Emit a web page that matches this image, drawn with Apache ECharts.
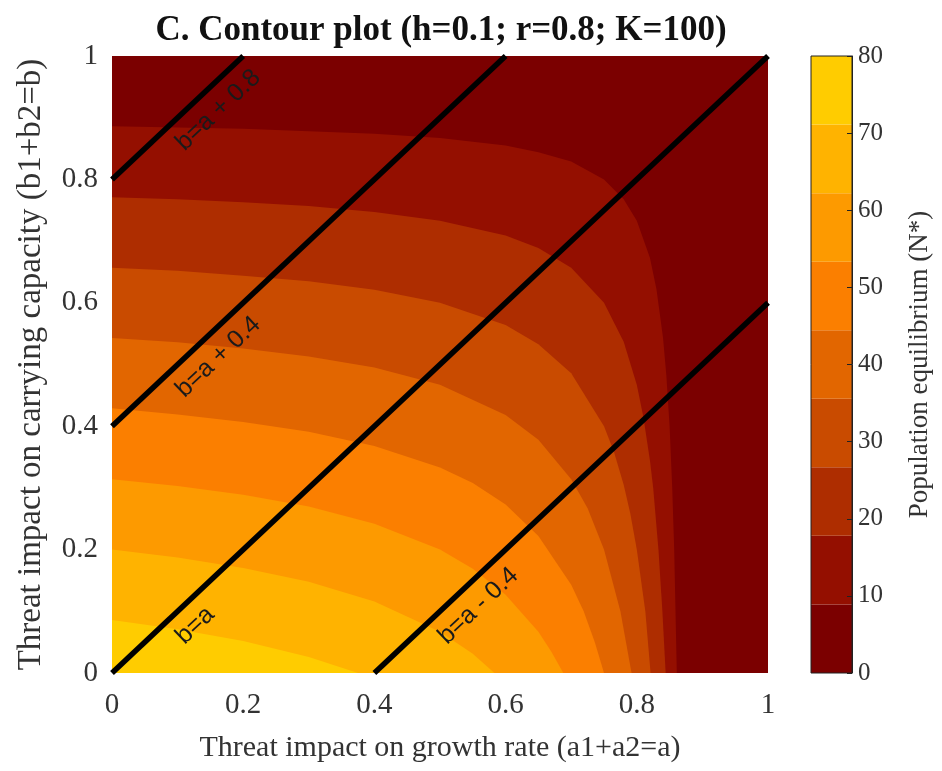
<!DOCTYPE html>
<html>
<head>
<meta charset="utf-8">
<script src="https://cdn.jsdelivr.net/npm/echarts@6/dist/echarts.min.js"></script>
<style>
  html, body { margin: 0; padding: 0; background: #fff; }
  #chart { width: 942px; height: 771px; }
</style>
</head>
<body>
<div id="chart"></div>
<script>
// contour levels of N* and the colour of the band above each level
const levels = [0, 10, 20, 30, 40, 50, 60, 70, 80];
const bandColors = ['#7b0000', '#940f00', '#ae2d00', '#c94b00', '#e26600',
                    '#fb7f00', '#fd9a00', '#ffb300', '#ffcc00'];

// contour curves [a, b] (region below each curve is N* > level)
const contour0 = [[0, 1], [1, 1]];
const contour10 = [[0, 0.886], [0.1, 0.884], [0.2, 0.882], [0.3, 0.878], [0.4, 0.874],
  [0.5, 0.867], [0.6, 0.855], [0.65, 0.844], [0.7, 0.829], [0.75, 0.8], [0.78, 0.768],
  [0.8, 0.733], [0.82, 0.673], [0.83, 0.622], [0.84, 0.543], [0.845, 0.483], [0.85, 0.4],
  [0.854, 0.3], [0.857, 0.2], [0.859, 0.1], [0.861, 0]];
const contour20 = [[0, 0.771], [0.1, 0.768], [0.2, 0.763], [0.3, 0.757], [0.4, 0.747],
  [0.5, 0.733], [0.6, 0.709], [0.65, 0.689], [0.7, 0.657], [0.75, 0.6], [0.78, 0.537],
  [0.8, 0.467], [0.81, 0.415], [0.82, 0.345], [0.825, 0.3], [0.833, 0.2], [0.839, 0.1],
  [0.844, 0]];
const contour30 = [[0, 0.657], [0.1, 0.652], [0.2, 0.644], [0.3, 0.635], [0.4, 0.621],
  [0.5, 0.6], [0.6, 0.564], [0.65, 0.533], [0.7, 0.486], [0.75, 0.4], [0.765, 0.359],
  [0.78, 0.305], [0.79, 0.259], [0.8, 0.2], [0.813, 0.1], [0.821, 0]];
const contour40 = [[0, 0.543], [0.1, 0.536], [0.2, 0.526], [0.3, 0.513], [0.4, 0.495],
  [0.5, 0.467], [0.6, 0.418], [0.65, 0.378], [0.7, 0.314], [0.725, 0.267], [0.75, 0.2],
  [0.775, 0.1], [0.792, 0]];
const contour50 = [[0, 0.429], [0.1, 0.419], [0.2, 0.407], [0.3, 0.391], [0.4, 0.368],
  [0.5, 0.333], [0.55, 0.308], [0.6, 0.273], [0.65, 0.222], [0.7, 0.143], [0.719, 0.1],
  [0.736, 0.05], [0.75, 0]];
const contour60 = [[0, 0.314], [0.1, 0.303], [0.2, 0.289], [0.3, 0.27], [0.4, 0.242],
  [0.5, 0.2], [0.55, 0.169], [0.6, 0.127], [0.65, 0.067], [0.67, 0.034], [0.688, 0]];
const contour70 = [[0, 0.2], [0.1, 0.187], [0.2, 0.17], [0.3, 0.148], [0.4, 0.116],
  [0.5, 0.067], [0.55, 0.031], [0.583, 0]];
const contour80 = [[0, 0.086], [0.1, 0.071], [0.2, 0.052], [0.3, 0.026], [0.375, 0]];
const contours = [contour0, contour10, contour20, contour30, contour40,
                  contour50, contour60, contour70, contour80];

// reference lines b = a + c
const refLineNames = ['b=a + 0.8', 'b=a + 0.4', 'b=a', 'b=a - 0.4'];
const refLineStarts = [[0, 0.8], [0, 0.4], [0, 0], [0.4, 0]];
const refLineEnds = [[0.2, 1], [0.6, 1], [1, 1], [1, 0.6]];

// colour bar band edges (9 equal bands over 0..80)
const cbarEdges = [0, 8.89, 17.78, 26.67, 35.56, 44.44, 53.33, 62.22, 71.11, 80];

const serif = 'Liberation Serif';
const chart = echarts.init(document.getElementById('chart'));

const contourSeries = contours.map((pts, i) => ({
  name: 'N* > ' + levels[i],
  type: 'line',
  xAxisIndex: 0,
  yAxisIndex: 0,
  data: pts,
  smooth: false,
  symbol: 'none',
  showSymbol: false,
  lineStyle: { width: 0, color: bandColors[i] },
  areaStyle: { color: bandColors[i], opacity: 1, origin: 'start' },
  silent: true
}));

const cbarData = cbarEdges.slice(0, -1).map((lo, i) => [0.5, lo, cbarEdges[i + 1]]);

const option = {
  animation: false,
  graphic: [{
    type: 'text',
    x: 441, y: 31,
    style: {
      text: 'C. Contour plot (h=0.1; r=0.8; K=100)',
      font: 'bold 35px "Liberation Serif"',
      fill: '#111',
      align: 'center',
      verticalAlign: 'middle'
    }
  }],
  grid: [
    { left: 112, right: 174, top: 56, bottom: 98 },
    { left: 811, right: 90, top: 56, bottom: 98, show: true, z: 10,
      borderColor: '#222', borderWidth: 1, backgroundColor: 'transparent' }
  ],
  xAxis: [
    {
      gridIndex: 0, type: 'value', min: 0, max: 1, interval: 0.2,
      axisLine: { show: false }, axisTick: { show: false }, splitLine: { show: false },
      axisLabel: { fontFamily: serif, fontSize: 29, color: '#333', margin: 18 },
      name: 'Threat impact on growth rate (a1+a2=a)',
      nameLocation: 'middle', nameGap: 60,
      nameTextStyle: { fontFamily: serif, fontSize: 30, color: '#333' }
    },
    {
      gridIndex: 1, type: 'value', min: 0, max: 1, show: false
    }
  ],
  yAxis: [
    {
      gridIndex: 0, type: 'value', min: 0, max: 1, interval: 0.2,
      axisLine: { show: false }, axisTick: { show: false }, splitLine: { show: false },
      axisLabel: { fontFamily: serif, fontSize: 29, color: '#333', margin: 14 },
      name: 'Threat impact on carrying capacity (b1+b2=b)',
      nameLocation: 'middle', nameGap: 64, nameRotate: 90,
      nameTextStyle: { fontFamily: serif, fontSize: 33, color: '#333' }
    },
    {
      gridIndex: 1, type: 'value', min: 0, max: 80, interval: 10, position: 'right', z: 20,
      axisLine: { show: true, onZero: false, lineStyle: { color: '#222', width: 1 } },
      axisTick: { show: true, inside: true, length: 5, lineStyle: { color: '#222' } },
      splitLine: { show: false },
      axisLabel: { fontFamily: serif, fontSize: 25, color: '#333', margin: 6 },
      name: 'Population equilibrium (N*)',
      nameLocation: 'middle', nameGap: 54, nameRotate: 90,
      nameTextStyle: { fontFamily: serif, fontSize: 27, color: '#333' }
    }
  ],
  series: contourSeries.concat([
    {
      name: 'reference lines',
      type: 'line',
      xAxisIndex: 0,
      yAxisIndex: 0,
      data: [],
      markLine: {
        silent: true,
        symbol: 'none',
        animation: false,
        lineStyle: { color: '#000', width: 5.5, type: 'solid' },
        label: {
          show: true,
          formatter: '{b}',
          position: 'insideStartBottom',
          distance: [72, 10],
          color: '#1a1a1a',
          fontFamily: 'Liberation Sans',
          fontSize: 25
        },
        emphasis: { disabled: true },
        data: refLineNames.map((n, i) => [
          { name: n, coord: refLineStarts[i] },
          { coord: refLineEnds[i] }
        ])
      }
    },
    {
      name: 'colour bar',
      type: 'custom',
      xAxisIndex: 1,
      yAxisIndex: 1,
      data: cbarData,
      encode: { x: 0, y: [1, 2] },
      silent: true,
      renderItem: function (params, api) {
        const p0 = api.coord([0, api.value(2)]);
        const p1 = api.coord([1, api.value(1)]);
        return {
          type: 'rect',
          shape: { x: p0[0], y: p0[1], width: p1[0] - p0[0], height: p1[1] - p0[1] },
          style: { fill: bandColors[params.dataIndex] }
        };
      }
    }
  ])
};

chart.setOption(option);
</script>
</body>
</html>
